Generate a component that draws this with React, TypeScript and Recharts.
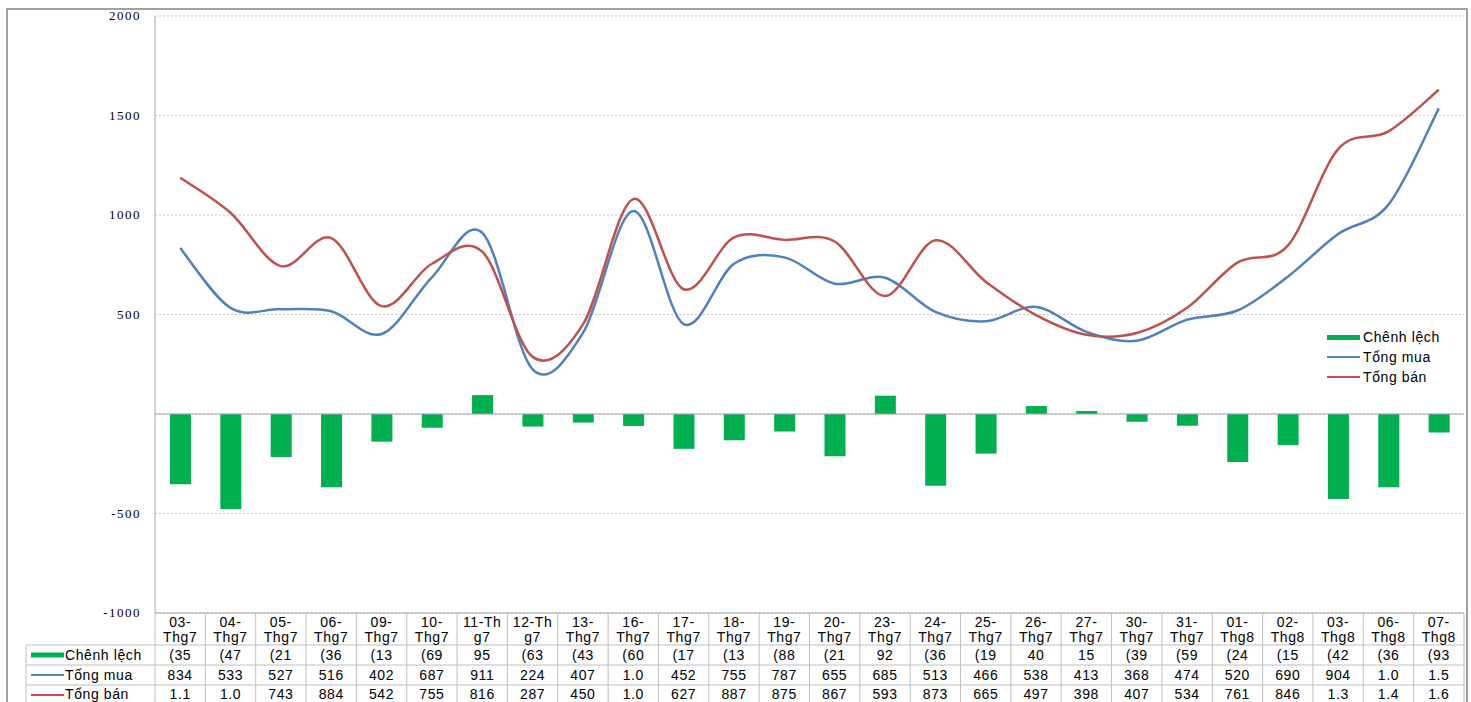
import React from "react";
import {
  ComposedChart,
  Bar,
  Line,
  XAxis,
  YAxis,
  CartesianGrid,
  ReferenceLine,
} from "recharts";

const dates = [
  "03-Thg7", "04-Thg7", "05-Thg7", "06-Thg7", "09-Thg7", "10-Thg7", "11-Thg7",
  "12-Thg7", "13-Thg7", "16-Thg7", "17-Thg7", "18-Thg7", "19-Thg7", "20-Thg7",
  "23-Thg7", "24-Thg7", "25-Thg7", "26-Thg7", "27-Thg7", "30-Thg7", "31-Thg7",
  "01-Thg8", "02-Thg8", "03-Thg8", "06-Thg8", "07-Thg8",
];
const chenhLech = [
  -353, -478, -216, -368, -139, -69, 95, -63, -43, -60, -175, -132, -88, -212,
  92, -360, -199, 40, 15, -39, -59, -241, -156, -427, -368, -93,
];
const tongMua = [
  834, 533, 527, 516, 402, 687, 911, 224, 407, 1020, 452, 755, 787, 655, 685,
  513, 466, 538, 413, 368, 474, 520, 690, 904, 1052, 1536,
];
const tongBan = [
  1187, 1011, 743, 884, 542, 755, 816, 287, 450, 1080, 627, 887, 875, 867, 593,
  873, 665, 497, 398, 407, 534, 761, 846, 1331, 1420, 1629,
];
const yTicks = [-1000, -500, 0, 500, 1000, 1500, 2000];
// labels Excel wrapped inside the word
const midWordBreak = ["11-Thg7", "12-Thg7"];

const GREEN = "#00b050";
const BLUE = "#4f81bd";
const RED = "#c0504d";
const GRID = "#bfbfbf";
const SANS = "'Liberation Sans', Arial, sans-serif";

const data = dates.map((d, i) => ({
  date: d,
  chenhLech: chenhLech[i],
  tongMua: tongMua[i],
  tongBan: tongBan[i],
}));

// layout
const CH_W = 1471;
const CH_H = 720;
const PLOT_L = 155;
const PLOT_R = 1464;
const PLOT_T = 16;
const PLOT_B = 613;
const X_AXIS_H = 90;
const Y_AXIS_W = 60;
const ROW1 = 645;
const ROW2 = 665;
const ROW3 = 685;
const TBL_B = 706;

// excel-like smoothing (catmull-rom through the points)
const excelSmooth = (context: any) => {
  let pts: number[][] = [];
  return {
    areaStart() {},
    areaEnd() {},
    lineStart() {
      pts = [];
    },
    lineEnd() {
      const n = pts.length;
      if (!n) return;
      context.moveTo(pts[0][0], pts[0][1]);
      for (let i = 0; i < n - 1; i++) {
        const p0 = pts[Math.max(i - 1, 0)];
        const p1 = pts[i];
        const p2 = pts[i + 1];
        const p3 = pts[Math.min(i + 2, n - 1)];
        context.bezierCurveTo(
          p1[0] + (p2[0] - p0[0]) / 6,
          p1[1] + (p2[1] - p0[1]) / 6,
          p2[0] - (p3[0] - p1[0]) / 6,
          p2[1] - (p3[1] - p1[1]) / 6,
          p2[0],
          p2[1]
        );
      }
    },
    point(x: number, y: number) {
      pts.push([+x, +y]);
    },
  };
};

const fmtCell = (v: number) => {
  const s = Math.abs(v).toString().replace(/\B(?=(\d{3})+(?!\d))/g, ".");
  const full = v < 0 ? "(" + s + ")" : s;
  return full.slice(0, 3);
};

const splitLabel = (s: string) => {
  if (midWordBreak.includes(s)) return [s.slice(0, 5), s.slice(5)];
  const k = s.indexOf("-");
  return [s.slice(0, k + 1), s.slice(k + 1)];
};

const rowLabels = [
  { name: "Chênh lệch", color: GREEN, h: 5 },
  { name: "Tổng mua", color: BLUE, h: 2 },
  { name: "Tổng bán", color: RED, h: 2 },
];

const txt = { fontFamily: SANS, fontSize: 14, fill: "#000", letterSpacing: 0.6 };

const TableTick = (props: any) => {
  const { x, payload, index } = props;
  const bw = (PLOT_R - PLOT_L) / dates.length;
  const left = x - bw / 2;
  const i = index;
  const lines = splitLabel(payload.value);
  const vals = [chenhLech[i], tongMua[i], tongBan[i]];
  return (
    <g>
      {i === 0 && (
        <g>
          <line x1={26} x2={PLOT_L} y1={ROW1} y2={ROW1} stroke={GRID} />
          <line x1={26} x2={PLOT_L} y1={ROW2} y2={ROW2} stroke={GRID} />
          <line x1={26} x2={PLOT_L} y1={ROW3} y2={ROW3} stroke={GRID} />
          <line x1={26} x2={26} y1={ROW1} y2={TBL_B} stroke={GRID} />
          {rowLabels.map((r, k) => (
            <g key={r.name}>
              <rect x={31} y={ROW1 + 10 + k * 20 - r.h / 2} width={33} height={r.h} fill={r.color} />
              <text x={65} y={ROW1 + 15 + k * 20 - (k === 2 ? 1 : 0)} {...txt}>
                {r.name}
              </text>
            </g>
          ))}
        </g>
      )}
      <line x1={left} x2={left} y1={PLOT_B} y2={TBL_B} stroke={GRID} />
      {i === dates.length - 1 && (
        <line x1={left + bw} x2={left + bw} y1={PLOT_B} y2={TBL_B} stroke={GRID} />
      )}
      <line x1={left} x2={left + bw} y1={ROW1} y2={ROW1} stroke={GRID} />
      <line x1={left} x2={left + bw} y1={ROW2} y2={ROW2} stroke={GRID} />
      <line x1={left} x2={left + bw} y1={ROW3} y2={ROW3} stroke={GRID} />
      <text x={x} y={PLOT_B + 14} textAnchor="middle" {...txt}>
        {lines[0]}
      </text>
      <text x={x} y={PLOT_B + 29} textAnchor="middle" {...txt}>
        {lines[1]}
      </text>
      {vals.map((v, k) => (
        <text key={k} x={x} y={ROW1 + 15 + k * 20 - (k === 2 ? 1 : 0)} textAnchor="middle" {...txt}>
          {fmtCell(v)}
        </text>
      ))}
    </g>
  );
};

const YTick = (props: any) => {
  const { y, payload } = props;
  if (payload.value === 0) return null;
  return (
    <text
      x={141}
      y={y + 4}
      textAnchor="end"
      fontFamily="'Liberation Serif', 'Times New Roman', serif"
      fontSize={13}
      letterSpacing={1.5}
      fill="#000"
    >
      {payload.value}
    </text>
  );
};

export default function App() {
  return (
    <div
      style={{
        position: "absolute",
        left: 0,
        top: 0,
        width: 1471,
        height: 702,
        overflow: "hidden",
        background: "#fff",
      }}
    >
      <ComposedChart
        width={CH_W}
        height={CH_H}
        data={data}
        margin={{
          top: PLOT_T,
          right: CH_W - PLOT_R,
          left: PLOT_L - Y_AXIS_W,
          bottom: CH_H - PLOT_B - X_AXIS_H,
        }}
      >
        <CartesianGrid vertical={false} stroke="#c8c8c8" strokeDasharray="2 2" />
        <XAxis
          dataKey="date"
          height={X_AXIS_H}
          interval={0}
          stroke="#a6a6a6"
          tickLine={false}
          tick={<TableTick />}
        />
        <YAxis
          width={Y_AXIS_W}
          domain={[-1000, 2000]}
          ticks={yTicks}
          stroke="#a6a6a6"
          tickLine={false}
          tick={<YTick />}
        />
        <ReferenceLine y={0} stroke="#a6a6a6" />
        <Bar dataKey="chenhLech" fill={GREEN} barSize={21} isAnimationActive={false} />
        <Line
          dataKey="tongMua"
          type={excelSmooth as any}
          stroke={BLUE}
          strokeWidth={2.5}
          dot={false}
          isAnimationActive={false}
        />
        <Line
          dataKey="tongBan"
          type={excelSmooth as any}
          stroke={RED}
          strokeWidth={2.5}
          dot={false}
          isAnimationActive={false}
        />
      </ComposedChart>
      {/* legend inside the plot */}
      <div
        style={{
          position: "absolute",
          left: 1327,
          top: 327,
          fontFamily: SANS,
          fontSize: 14,
          letterSpacing: 0.6,
          color: "#000",
        }}
      >
        {rowLabels.map((r) => (
          <div key={r.name} style={{ display: "flex", alignItems: "center", height: 20 }}>
            <div style={{ width: 33, height: r.h, background: r.color, marginRight: 3 }} />
            <span>{r.name}</span>
          </div>
        ))}
      </div>
      <div
        style={{
          position: "absolute",
          left: 6,
          top: 8,
          width: PLOT_R - 6,
          height: 760,
          border: "2px solid #a0a0a0",
          borderRadius: 1,
          pointerEvents: "none",
        }}
      />
    </div>
  );
}
